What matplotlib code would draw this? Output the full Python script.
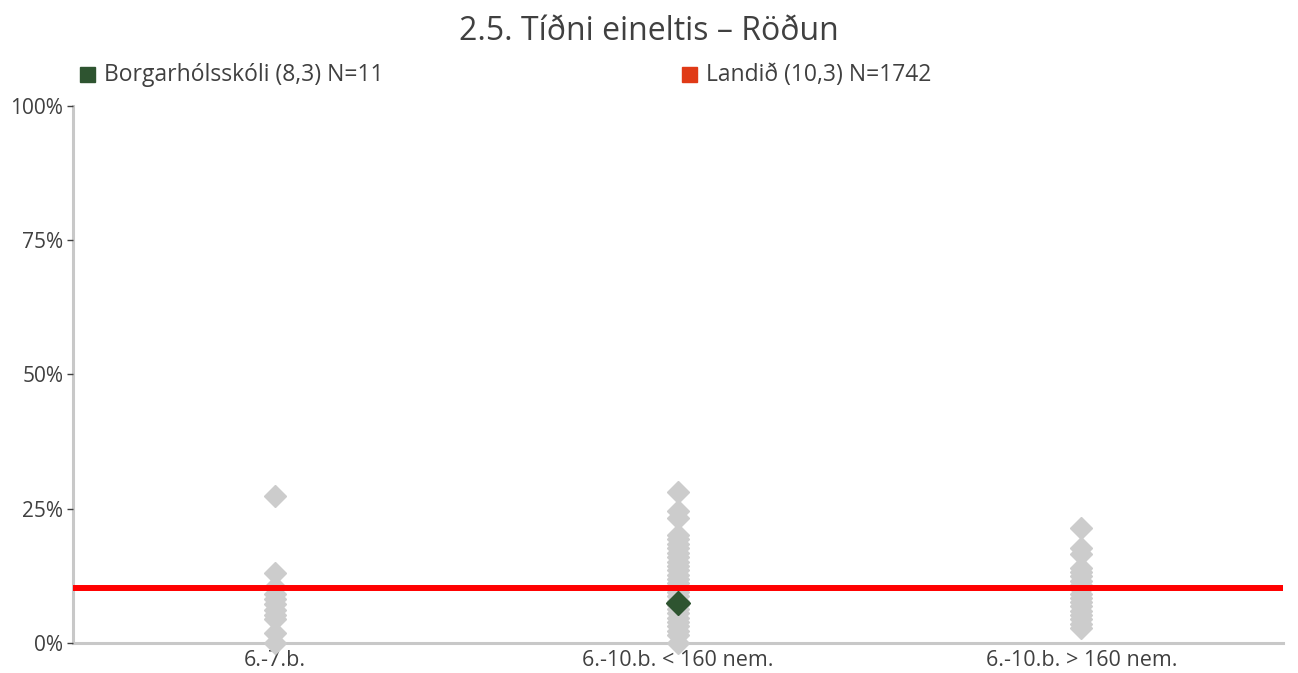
#!/usr/bin/env python3
"""Strip chart of bullying frequency by school group, with the national line."""

import matplotlib.pyplot as plt
from matplotlib.patches import Rectangle
from matplotlib.ticker import FixedLocator

plt.rcParams["font.family"] = ["Open Sans", "DejaVu Sans"]

TITLE = "2.5. Tíðni eineltis – Röðun"
categories = ["6.-7.b.", "6.-10.b. < 160 nem.", "6.-10.b. > 160 nem."]

# other schools, percent
schools_67 = [27.3, 13.0, 10.4, 9.2, 8.2, 7.2, 6.2, 5.2, 4.4, 1.8, 0.0]
schools_small = [28.1, 24.6, 23.3, 20.1, 19.3, 18.5, 17.6, 16.8, 16.0, 15.1,
                 14.3, 13.5, 12.7, 11.9, 11.1, 10.3, 9.5, 8.7, 7.9, 7.1,
                 6.3, 5.5, 4.7, 3.9, 3.1, 2.3, 1.5, 0.0]
schools_large = [21.4, 17.7, 16.5, 14.0, 13.2, 12.4, 11.6, 10.8, 10.0, 9.2,
                 8.4, 7.6, 6.8, 6.0, 5.2, 4.4, 3.6, 2.8]
others = [schools_67, schools_small, schools_large]

school_name = "Borgarhólsskóli (8,3) N=11"
school_cat = 1
school_value = 7.4
country_name = "Landið (10,3) N=1742"
country_value = 10.3

yticks = [0, 25, 50, 75, 100]
ytick_labels = ["0%", "25%", "50%", "75%", "100%"]

GRAY = "#cccccc"
GREEN = "#2e5430"
RED_LINE = "#ff0000"
RED_BOX = "#e03a16"
TEXT = "#404040"

fig = plt.figure(figsize=(12.98, 6.73), dpi=100)
ax = fig.add_axes([0.0562, 0.0446, 0.9322, 0.798])

for i, vals in enumerate(others):
    ax.plot([i] * len(vals), vals, linestyle="none", marker="D", ms=11.5,
            color=GRAY, mec=GRAY, clip_on=False, zorder=3)

ax.axhline(country_value, color=RED_LINE, lw=4.3, zorder=4)
ax.plot([school_cat], [school_value], linestyle="none", marker="D", ms=12,
        color=GREEN, mec=GREEN, clip_on=False, zorder=5)

ax.set_xlim(-0.5, len(categories) - 0.5)
ax.set_ylim(0, 100)
ax.set_xticks(range(len(categories)))
ax.set_xticklabels(categories, fontsize=15.5, color=TEXT)
ax.tick_params(axis="x", length=0, pad=5)
ax.yaxis.set_major_locator(FixedLocator(yticks))
ax.set_yticklabels(ytick_labels, fontsize=15, color=TEXT)
ax.tick_params(axis="y", length=4, width=1, color=TEXT, pad=3)

for side in ["top", "right"]:
    ax.spines[side].set_visible(False)
for side in ["left", "bottom"]:
    ax.spines[side].set_color("#c8c8c8")
    ax.spines[side].set_linewidth(2.2)
    ax.spines[side].set_zorder(1)

fig.text(0.5, 0.953, TITLE, ha="center", va="center", fontsize=23, color=TEXT)

# legend
for x, color, label in [(0.0616, GREEN, school_name), (0.5255, RED_BOX, country_name)]:
    fig.patches.append(Rectangle((x, 0.8785), 0.0115, 0.0222, transform=fig.transFigure,
                                 color=color, figure=fig))
    fig.text(x + 0.0185, 0.889, label, ha="left", va="center", fontsize=16.5, color=TEXT)

fig.savefig("out.png", dpi=100)
